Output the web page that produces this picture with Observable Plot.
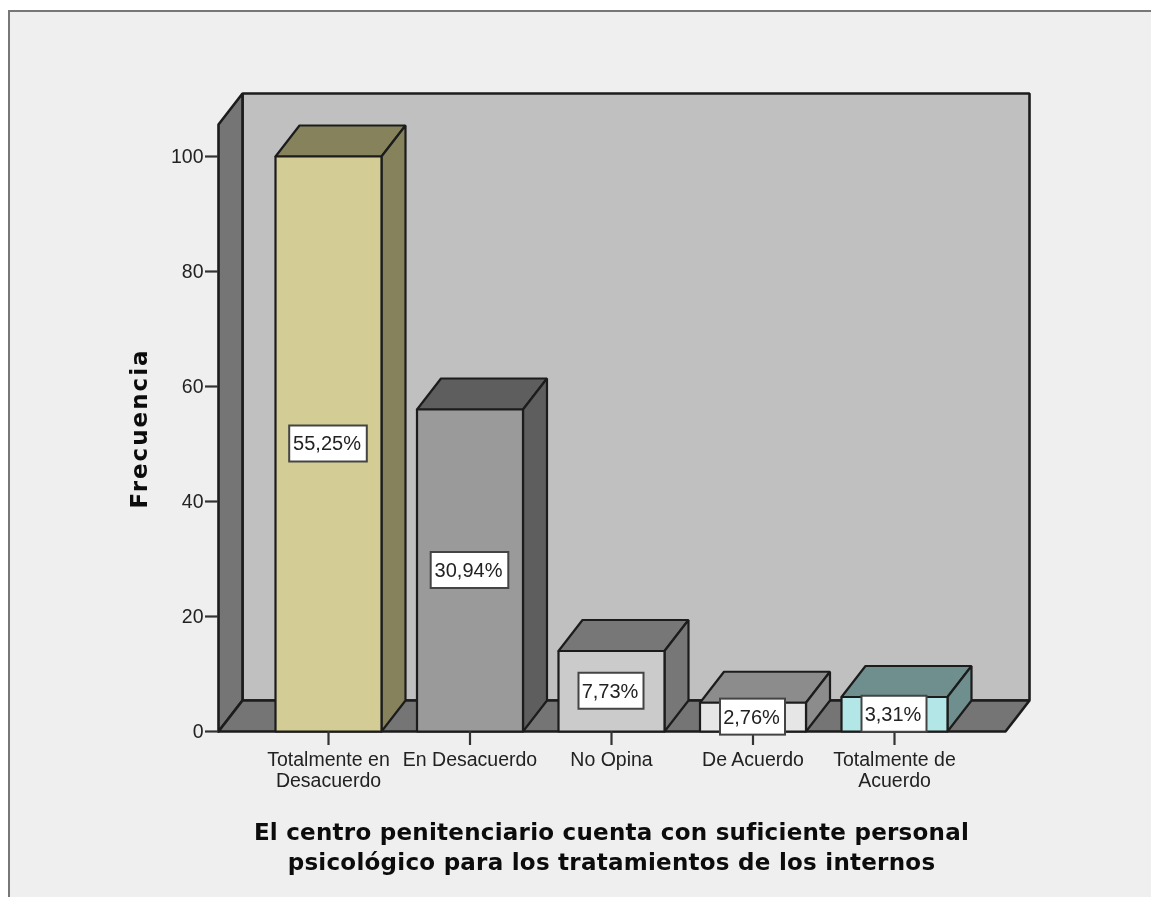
<!DOCTYPE html>
<html lang="es">
<head>
<meta charset="utf-8">
<script src="https://cdn.jsdelivr.net/npm/d3@7"></script>
<script src="https://cdn.jsdelivr.net/npm/@observablehq/plot@0.6"></script>
<style>
  html, body { margin: 0; padding: 0; background: #fff; }
  #panel { position: absolute; left: 8px; top: 10px; right: 0; bottom: 0;
           background: #efefef; border-top: 2px solid #777; border-left: 2px solid #777; }
  #chart { position: absolute; left: 0; top: 0; width: 1151px; height: 897px; overflow: hidden; }
  #chart svg { background: transparent; filter: blur(0.4px); overflow: visible; }
  #chart text[aria-label="x title"] { letter-spacing: 0.25px; }
  #chart text[aria-label="y title"] { letter-spacing: 2px; }
</style>
</head>
<body>
<div id="panel"></div>
<div id="chart"></div>
<script>
const categories = ["Totalmente en\nDesacuerdo", "En Desacuerdo", "No Opina", "De Acuerdo", "Totalmente de\nAcuerdo"];
const frequencies = [100, 56, 14, 5, 6];
const percentLabels = ["55,25%", "30,94%", "7,73%", "2,76%", "3,31%"];
const frontColors = ["#d3cd95", "#9a9a9a", "#cbcbcb", "#e6e6e6", "#b3e6e6"];
const sideColors = ["#85825c", "#5e5e5e", "#777777", "#8c8c8c", "#6f8f8f"];
const yTicks = [0, 20, 40, 60, 80, 100];
const xTitle = "El centro penitenciario cuenta con suficiente personal\npsicológico para los tratamientos de los internos";
const yTitle = "Frecuencia";

// Scale geometry
const pxX = 141.5, pxY = 5.75;
const xDomain = [-110 / pxX, 701 / pxX];
const yDomain = [0, 638 / pxY];
const depthX = 24 / pxX, depthY = 31 / pxY;
const half = 53 / pxX;
const wallTop = yDomain[1] - depthY;
const ink = "#1c1c1c";
const wallColor = "#c0c0c0", sideWall = "#757575";
const titleFont = "'DejaVu Sans', sans-serif";

// Closed polygons as rows for Plot.line
function face(id, color, pts) {
  return [...pts, pts[0]].map(([x, y]) => ({id, color, x, y}));
}
const [x0, x1] = xDomain;
const room = [
  ...face("back", wallColor, [[x0 + depthX, depthY], [x1, depthY], [x1, yDomain[1]], [x0 + depthX, yDomain[1]]]),
  ...face("left", sideWall, [[x0, 0], [x0 + depthX, depthY], [x0 + depthX, yDomain[1]], [x0, wallTop]]),
  ...face("floor", sideWall, [[x0, 0], [x1 - depthX, 0], [x1, depthY], [x0 + depthX, depthY]])
];
const bars = frequencies.flatMap((v, i) => {
  const l = i - half, r = i + half;
  return [
    ...face("top" + i, sideColors[i], [[l, v], [r, v], [r + depthX, v + depthY], [l + depthX, v + depthY]]),
    ...face("side" + i, sideColors[i], [[r, 0], [r + depthX, depthY], [r + depthX, v + depthY], [r, v]]),
    ...face("front" + i, frontColors[i], [[l, 0], [r, 0], [r, v], [l, v]])
  ];
});
const boxes = frequencies.map((v, i) => {
  const hw = (percentLabels[i].length * 6.3 + 1) / pxX, hh = 18 / pxY;
  return {x1: i - hw, x2: i + hw, y1: v / 2 - hh, y2: v / 2 + hh, i, v, label: percentLabels[i]};
});

const plot = Plot.plot({
  width: 1151, height: 897,
  marginLeft: 218, marginRight: 122, marginTop: 93, marginBottom: 166,
  style: {background: "transparent", fontFamily: "'Liberation Sans', Arial, sans-serif"},
  x: {type: "linear", domain: xDomain, axis: null},
  y: {type: "linear", domain: yDomain, axis: null},
  color: {type: "identity"},
  marks: [
    Plot.line(room, {x: "x", y: "y", z: "id", fill: "color", stroke: ink, strokeWidth: 2.6, strokeLinejoin: "miter"}),
    Plot.line(bars, {x: "x", y: "y", z: "id", fill: "color", stroke: ink, strokeWidth: 2.2, strokeLinejoin: "miter"}),
    Plot.axisY({ticks: yTicks, tickSize: 13, tickPadding: 2, fontSize: 19.5, stroke: "#333", strokeWidth: 2.2, color: "#222", label: null, tickFormat: d => d}),
    Plot.axisX({ticks: d3.range(categories.length), tickSize: 14, tickPadding: 6, fontSize: 19.5, lineHeight: 1.07, stroke: "#333", strokeWidth: 2.2, color: "#222", label: null, tickFormat: i => categories[i]}),
    Plot.rect(boxes, {x1: "x1", x2: "x2", y1: "y1", y2: "y2", fill: "#fff", stroke: "#444", strokeWidth: 2}),
    Plot.text(boxes, {x: "i", y: d => d.v / 2, dx: -1.5, text: "label", fontSize: 20, fill: "#222", lineAnchor: "middle"}),
    Plot.text([xTitle], {ariaLabel: () => "x title", x: () => 2, y: () => 0, dy: 114, text: d => d, fontSize: 23, fontWeight: 700, fontFamily: titleFont, fill: "#0c0c0c", lineHeight: 1.3, lineAnchor: "middle"}),
    Plot.text([yTitle], {ariaLabel: () => "y title", x: () => xDomain[0], y: () => 52.7, dx: -79, rotate: -90, text: d => d, fontSize: 23, fontWeight: 700, fontFamily: titleFont, fill: "#0c0c0c", lineAnchor: "middle"})
  ]
});
document.getElementById("chart").append(plot);
</script>
</body>
</html>
